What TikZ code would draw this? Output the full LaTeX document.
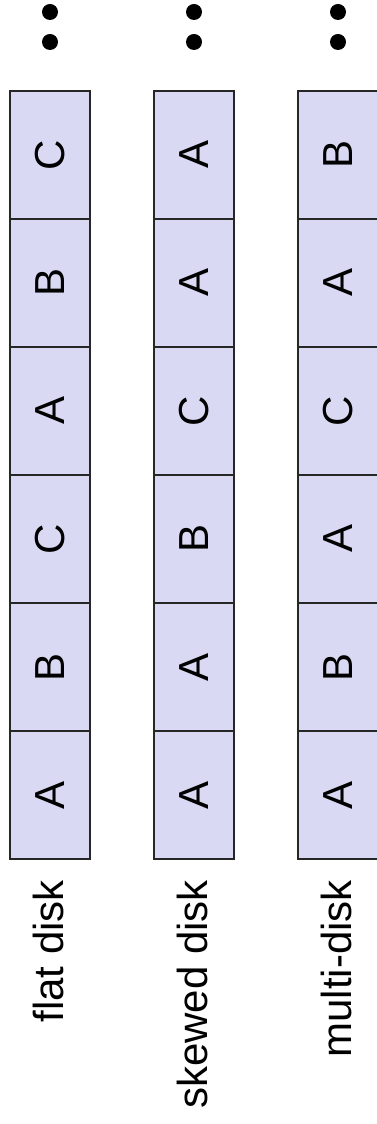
\documentclass[tikz,border=0pt]{standalone}
\usepackage{fontspec}
\setmainfont{Liberation Sans}
\definecolor{blockfill}{RGB}{217,217,243}
\begin{document}
\begin{tikzpicture}[x=1pt,y=1pt,
  blk/.style={draw=black!85, fill=blockfill, line width=1.3pt, rotate=90,
    minimum width=128pt, minimum height=80pt, inner sep=0pt,
    font=\fontsize{42}{50}\selectfont},
  lbl/.style={rotate=90, anchor=east, inner sep=0pt, font=\fontsize{42}{50}\selectfont},
  dot/.style={circle, fill=black, inner sep=0pt, minimum size=16pt}]
  \useasboundingbox (0,0) rectangle (376,1124);
  % blocks of each disk, from bottom to top
  \foreach \col/\xc/\seq in {flat/50/{A,B,C,A,B,C}, skew/194/{A,A,B,C,A,A}, multi/338/{A,B,A,C,A,B}} {
    \foreach \l [count=\i from 0] in \seq
      \node[blk] (\col-\i) at (\xc,329+128*\i) {\l};
    \node[dot] (\col-d1) at (\xc,1082) {};
    \node[dot] (\col-d2) at (\xc,1112) {};
  }
  \node[lbl] (flat-lbl) at (48,244) {flat disk};
  \node[lbl] (skew-lbl) at (192,244) {skewed disk};
  \node[lbl] (multi-lbl) at (336,244) {multi-disk};
\end{tikzpicture}
\end{document}
